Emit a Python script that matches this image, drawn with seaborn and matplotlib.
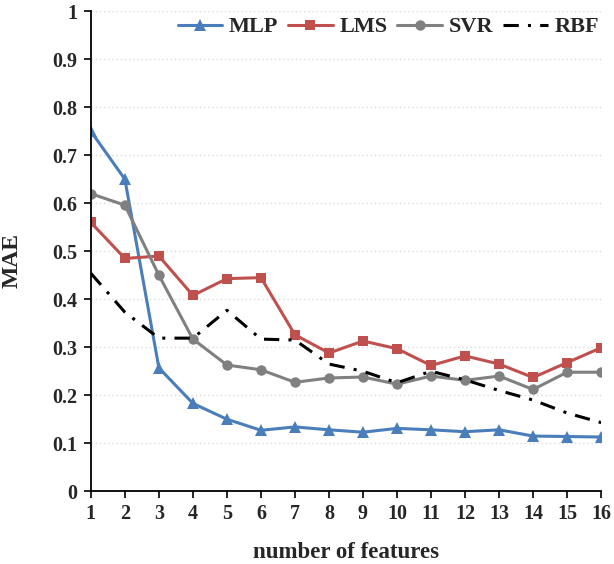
import matplotlib
matplotlib.use("Agg")
import matplotlib.pyplot as plt
import seaborn as sns
import pandas as pd

features = list(range(1, 17))
mlp = [0.750, 0.650, 0.257, 0.183, 0.150, 0.127, 0.134, 0.128, 0.123, 0.131, 0.128, 0.124, 0.128, 0.115, 0.114, 0.113]
lms = [0.560, 0.485, 0.490, 0.408, 0.443, 0.445, 0.326, 0.288, 0.313, 0.297, 0.262, 0.282, 0.265, 0.237, 0.268, 0.299]
svr = [0.620, 0.596, 0.450, 0.317, 0.263, 0.253, 0.227, 0.236, 0.238, 0.223, 0.240, 0.231, 0.240, 0.212, 0.248, 0.248]
rbf = [0.454, 0.373, 0.319, 0.319, 0.377, 0.317, 0.315, 0.265, 0.250, 0.226, 0.250, 0.232, 0.210, 0.190, 0.163, 0.143]
y_ticks = [0, 0.1, 0.2, 0.3, 0.4, 0.5, 0.6, 0.7, 0.8, 0.9, 1]
y_tick_labels = ["0", "0.1", "0.2", "0.3", "0.4", "0.5", "0.6", "0.7", "0.8", "0.9", "1"]

sns.set_style("white")
plt.rcParams["font.family"] = ["Liberation Serif", "DejaVu Serif"]
plt.rcParams["font.weight"] = "bold"

fig = plt.figure(figsize=(6.14, 5.64), dpi=100)
ax = fig.add_axes([0.148, 0.129, 0.831, 0.851])

styles = [
    ("MLP", mlp, dict(color="#4a7ebb", marker="^", markersize=9, linestyle="-")),
    ("LMS", lms, dict(color="#c0504d", marker="s", markersize=7.5, linestyle="-")),
    ("SVR", svr, dict(color="#808080", marker="o", markersize=7.5, linestyle="-")),
    ("RBF", rbf, dict(color="black", marker=None, linestyle=(0, (5, 3, 1, 3)))),
]

for name, vals, kw in styles:
    df = pd.DataFrame({"features": features, "MAE": vals})
    sns.lineplot(data=df, x="features", y="MAE", ax=ax, label=name,
                 linewidth=2.2, markeredgewidth=0, **kw)

ax.set_xlim(1, 16)
ax.set_ylim(0, 1)
ax.set_xticks(features)
ax.set_xticklabels([str(f) for f in features], fontsize=14.5, fontweight="bold")
ax.set_yticks(y_ticks)
ax.set_yticklabels(y_tick_labels, fontsize=14.5, fontweight="bold")
ax.tick_params(axis="both", direction="out", length=5, width=1.2, color="black",
               bottom=True, left=True)
ax.tick_params(axis="y", pad=5)
ax.tick_params(axis="x", pad=4)

ax.yaxis.grid(True, linestyle=(0, (1, 2)), color="#d9d9d9", linewidth=1)
ax.xaxis.grid(False)
for side in ["top", "right"]:
    ax.spines[side].set_visible(False)
for side in ["left", "bottom"]:
    ax.spines[side].set_color("black")
    ax.spines[side].set_linewidth(1.3)

ax.set_xlabel("number of features", fontsize=16.5, fontweight="bold", labelpad=13)
ax.set_ylabel("MAE", fontsize=17, fontweight="bold", labelpad=14)
ax.yaxis.set_label_coords(-0.133, 0.48)

leg = ax.legend(loc="upper right", bbox_to_anchor=(1.035, 1.03), ncol=4, frameon=False,
                prop={"family": "Liberation Serif", "weight": "bold", "size": 16},
                handlelength=2.0, handletextpad=0.3, columnspacing=0.45)

fig.savefig("out.png", dpi=100)
